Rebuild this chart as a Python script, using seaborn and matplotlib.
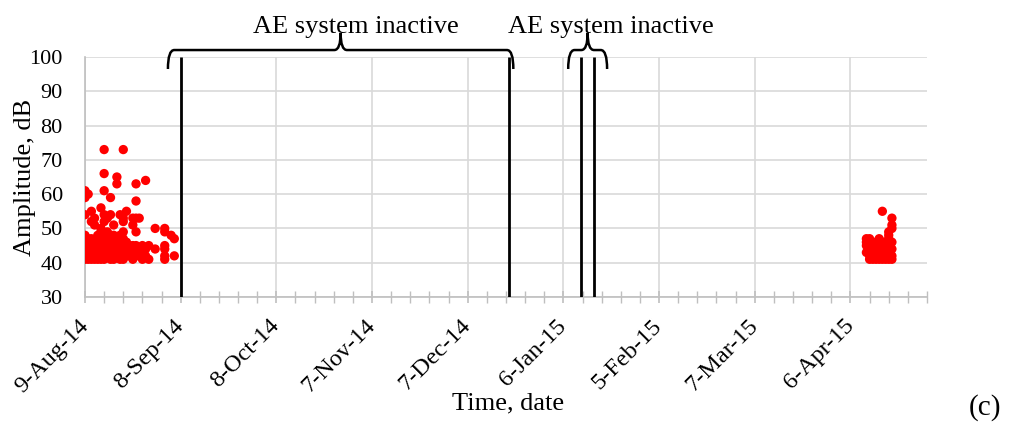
import numpy as np
import pandas as pd
import matplotlib
matplotlib.use("Agg")
import matplotlib.pyplot as plt
import matplotlib.dates as mdates
import matplotlib.transforms as mtransforms
from matplotlib.path import Path
from matplotlib.patches import PathPatch
import seaborn as sns

# ---------------- data (days since 9-Aug-14, amplitude dB) ----------------
START = pd.Timestamp("2014-08-09")
END_DAY = 264  # 30-Apr-15

early_days = (
    [0]*11 + [1]*7 + [2]*7 + [3]*6 + [4]*6 + [5]*8 + [6]*11 + [7]*7 + [8]*7 +
    [9]*6 + [10]*7 + [11]*7 + [12]*9 + [13]*4 + [14]*2 + [15]*5 + [16]*7 +
    [17]*3 + [18]*3 + [19]*3 + [20]*2 + [22]*2 + [25]*6 + [27]*1 + [28]*2
)
early_amp = [
    41, 42, 43, 44, 45, 46, 47, 48, 54, 59, 61,
    41, 42, 43, 45, 46, 47, 60,
    41, 42, 44, 45, 47, 52, 55,
    41, 43, 44, 46, 51, 53,
    41, 42, 43, 45, 46, 48,
    41, 42, 44, 45, 47, 49, 50, 56,
    41, 42, 43, 45, 46, 48, 52, 54, 61, 66, 73,
    42, 43, 44, 46, 47, 49, 53,
    41, 42, 45, 47, 48, 54, 59,
    41, 43, 44, 46, 48, 51,
    42, 43, 45, 46, 47, 63, 65,
    41, 42, 44, 45, 47, 48, 54,
    41, 42, 43, 45, 47, 49, 52, 53, 73,
    42, 44, 46, 55,
    42, 45,
    41, 43, 45, 51, 53,
    42, 44, 45, 49, 53, 58, 63,
    42, 43, 53,
    41, 44, 45,
    42, 44, 64,
    41, 45,
    44, 50,
    41, 42, 44, 45, 49, 50,
    48,
    42, 47,
]

late_days = (
    [245]*4 + [246]*7 + [247]*4 + [248]*6 + [249]*5 + [250]*5 + [251]*6 +
    [252]*8 + [253]*7
)
late_amp = [
    43, 45, 46, 47,
    41, 42, 43, 44, 45, 46, 47,
    41, 42, 43, 44,
    41, 42, 43, 44, 45, 46,
    41, 42, 43, 45, 47,
    41, 42, 44, 46, 55,
    41, 42, 43, 44, 45, 46,
    41, 42, 43, 44, 45, 47, 48, 49,
    41, 42, 44, 46, 50, 51, 53,
]

# AE system inactive boundaries (days since start)
inactive_lines = [30, 133, 155.5, 159.5]
brace_spans = [(26, 134.3), (151.5, 163.7)]
label_days = [85, 165]
brace_text = "AE system inactive"

y_ticks = [30, 40, 50, 60, 70, 80, 90, 100]

# ---------------------------------------------------------------------------
def to_date(days):
    return START + pd.to_timedelta(np.asarray(days), unit="D")

def dn(day):
    return mdates.date2num(START + pd.Timedelta(days=day))

df = pd.DataFrame({
    "date": to_date(early_days + late_days),
    "amp": early_amp + late_amp,
})

sns.set_theme(style="white")
plt.rcParams["font.family"] = ["Liberation Serif", "DejaVu Serif"]
for k in ["text.color", "axes.labelcolor", "xtick.labelcolor", "ytick.labelcolor"]:
    plt.rcParams[k] = "black"

fig = plt.figure(figsize=(10.12, 4.32), dpi=100)
ax = fig.add_axes([85/1012, 1-297/432, (927-85)/1012, 240/432])

sns.scatterplot(data=df, x="date", y="amp", ax=ax, color="#ff0000",
                s=45, edgecolor="none", linewidth=0, zorder=3, legend=False)

ax.set_xlim(dn(0), dn(END_DAY))
ax.set_ylim(30, 100)

major = [dn(d) for d in range(0, END_DAY + 1, 30)]
minor = [dn(d) for d in range(0, END_DAY + 1, 6)]
ax.xaxis.set_major_locator(matplotlib.ticker.FixedLocator(major))
ax.xaxis.set_minor_locator(matplotlib.ticker.FixedLocator(minor))

def fmt(x, pos=None):
    d = mdates.num2date(x)
    return f"{d.day}-{d.strftime('%b-%y')}"
ax.xaxis.set_major_formatter(matplotlib.ticker.FuncFormatter(fmt))
ax.set_yticks(y_ticks)

grid_c = "#d9d9d9"
ax.grid(True, which="major", axis="both", color=grid_c, linewidth=1.2, zorder=0)
ax.set_axisbelow(True)
for side in ["top", "right"]:
    ax.spines[side].set_visible(False)
for side in ["left", "bottom"]:
    ax.spines[side].set_color("#bfbfbf")
    ax.spines[side].set_linewidth(1.2)

ax.tick_params(axis="x", which="major", direction="inout", length=9, width=1.2,
               color="#bfbfbf", labelsize=17.5, pad=14, bottom=True)
ax.tick_params(axis="x", which="minor", direction="inout", length=8, width=1.0,
               color="#bfbfbf", bottom=True)
ax.tick_params(axis="y", length=0, labelsize=16, pad=16)
for lab in ax.get_xticklabels():
    lab.set_rotation(45)
    lab.set_ha("right")
    lab.set_va("center")
    lab.set_rotation_mode("anchor")

ax.set_xlabel("Time, date", fontsize=19)
ax.set_ylabel("Amplitude, dB", fontsize=19)
ax.xaxis.set_label_coords((508 - 85) / 842, (297 - 403) / 240)
ax.yaxis.set_label_coords((25 - 85) / 842, 0.5)
ax.xaxis.label.set_va("center")
ax.yaxis.label.set_va("center")

# inactive lines
ax.vlines([dn(d) for d in inactive_lines], 30, 100, color="black",
          linewidth=2.0, zorder=4)

# braces
trans = mtransforms.blended_transform_factory(ax.transData, ax.transAxes)
y_lo, y_mid, y_tip = 0.95, 1.029, 1.10
for (a, b), t in zip(brace_spans, label_days):
    xa, xb = dn(a), dn(b)
    xm = (xa + xb) / 2
    dx = dn(2) - dn(0)
    verts = [
        (xa, y_lo), (xa, y_mid), (xa + dx, y_mid),
        (xm - dx, y_mid), (xm, y_mid), (xm, y_tip),
        (xm, y_mid), (xm + dx, y_mid),
        (xb - dx, y_mid), (xb, y_mid), (xb, y_lo),
    ]
    codes = [
        Path.MOVETO, Path.CURVE3, Path.CURVE3,
        Path.LINETO, Path.CURVE3, Path.CURVE3,
        Path.CURVE3, Path.CURVE3,
        Path.LINETO, Path.CURVE3, Path.CURVE3,
    ]
    patch = PathPatch(Path(verts, codes), transform=trans, facecolor="none",
                      edgecolor="black", linewidth=1.8, clip_on=False, zorder=5)
    ax.add_patch(patch)
    ax.text(dn(t), (432 - 33 - 135) / 240, brace_text, transform=trans,
            ha="center", va="baseline", fontsize=19, color="black", clip_on=False)

fig.text(985/1012, 1-408/432, "(c)", ha="center", va="center", fontsize=21)

fig.savefig("out.png", dpi=100)
